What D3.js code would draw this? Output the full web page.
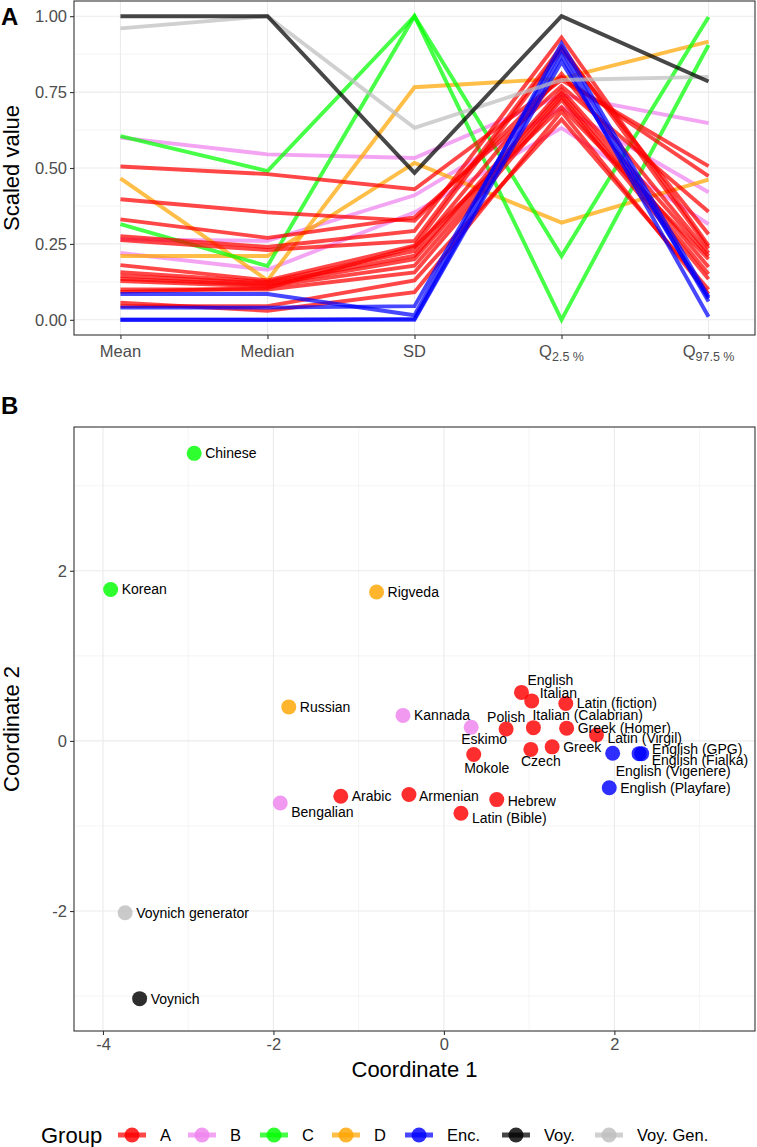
<!DOCTYPE html>
<html><head><meta charset="utf-8">
<script src="https://cdn.jsdelivr.net/npm/d3@7"></script>
<style>body{margin:0;background:#fff} text{font-family:"Liberation Sans",Arial,Helvetica,sans-serif}</style>
</head><body><svg id="c" width="757" height="1147"></svg>
<script>
// ---------- DATA ----------
const categories = ["Mean","Median","SD","Q2.5","Q97.5"];
const categoryMain = ["Mean","Median","SD","Q","Q"];
const categorySub  = ["","","","2.5 %","97.5 %"];
const groups = ["A","B","C","D","Enc.","Voy.","Voy. Gen."];
const groupColors = ["#FF0000","#EE82EE","#00FF00","#FFA500","#0000FF","#000000","#BEBEBE"];

// Panel A: one row per text (draw order)
const lineGroup = ["B","B","B","D","D","C","C",
  "A","A","A","A","A","A","A","A","A","A","A","A","A","A",
  "Enc.","Enc.","Enc.","Enc.","Voy. Gen.","Voy."];
const lineValues = [
  [0.60,0.545,0.533,0.74,0.648],
  [0.265,0.26,0.41,0.70,0.42],
  [0.22,0.165,0.354,0.632,0.315],
  [0.466,0.13,0.766,0.795,0.916],
  [0.21,0.21,0.517,0.32,0.462],
  [0.605,0.49,1.0,0.21,0.997],
  [0.315,0.177,1.0,0.0,0.905],
  [0.505,0.48,0.43,0.79,0.506],
  [0.397,0.354,0.326,0.80,0.473],
  [0.331,0.27,0.337,0.77,0.356],
  [0.275,0.24,0.293,0.93,0.244],
  [0.263,0.23,0.26,0.90,0.235],
  [0.18,0.13,0.244,0.89,0.282],
  [0.157,0.125,0.227,0.81,0.22],
  [0.145,0.12,0.211,0.757,0.21],
  [0.135,0.115,0.20,0.746,0.174],
  [0.128,0.11,0.178,0.735,0.151],
  [0.10,0.10,0.156,0.725,0.134],
  [0.092,0.105,0.24,0.70,0.20],
  [0.056,0.03,0.091,0.686,0.085],
  [0.045,0.045,0.13,0.66,0.10],
  [0.085,0.085,0.015,0.91,0.075],
  [0.04,0.04,0.045,0.89,0.06],
  [0.0,0.0,0.003,0.87,0.01],
  [0.0,0.0,0.0,0.85,0.07],
  [0.96,1.0,0.632,0.79,0.80],
  [1.0,1.0,0.484,1.0,0.785]
];
const yTicksA = [0,0.25,0.5,0.75,1];

// Panel B
const pointNames = ["Chinese","Korean","Rigveda","Russian","Kannada","Bengalian","Eskimo","Arabic","Armenian","Hebrew","Latin (Bible)","Mokole","Polish","English","Italian","Latin (fiction)","Italian (Calabrian)","Greek (Homer)","Latin (Virgil)","Czech","Greek","English (Vigenere)","English (GPG)","English (Fialka)","English (Playfare)","Voynich generator","Voynich"];
const pointGroup = ["C","C","D","D","B","B","B","A","A","A","A","A","A","A","A","A","A","A","A","A","A","Enc.","Enc.","Enc.","Enc.","Voy. Gen.","Voy."];
const coord1 = [-2.93,-3.91,-0.79,-1.82,-0.48,-1.92,0.32,-1.21,-0.41,0.62,0.20,0.35,0.73,0.91,1.03,1.43,1.05,1.44,1.79,1.02,1.27,1.98,2.29,2.32,1.94,-3.74,-3.57];
const coord2 = [3.38,1.78,1.75,0.40,0.30,-0.73,0.16,-0.65,-0.63,-0.69,-0.85,-0.16,0.14,0.57,0.47,0.44,0.156,0.15,0.07,-0.10,-0.07,-0.145,-0.15,-0.15,-0.55,-2.02,-3.03];
const xTicksB = [-4,-2,0,2];
const yTicksB = [-2,0,2];

// label nudges (style, not data)
const labelNudge = [[11,0,"start"],[11,0,"start"],[11,0,"start"],[11,0,"start"],[11,0,"start"],[11,9,"start"],[13,12,"middle"],[11,0,"start"],[10,1,"start"],[11,1,"start"],[11,5,"start"],[13,13,"middle"],[0,-12,"middle"],[6,-12,"start"],[8,-8,"start"],[11,0,"start"],[-1,-13,"start"],[11,0,"start"],[11,3,"start"],[10,12,"middle"],[11,0,"start"],[3,18,"start"],[13,-5,"start"],[10,6,"start"],[11,0,"start"],[11,0,"start"],[11,0,"start"]];

// ---------- DRAW ----------
const svg = d3.select("#c");
const color = d3.scaleOrdinal().domain(groups).range(groupColors);
const GRID="#EBEBEB", BORDER="#333333", TICKTXT="#4D4D4D";
const intFmt = v => String(v);   // ASCII hyphen-minus like ggplot

function panelFrame(g, x0,x1,y0,y1){
  g.append("rect").attr("x",x0).attr("y",y0).attr("width",x1-x0).attr("height",y1-y0)
   .attr("fill","none").attr("stroke",BORDER).attr("stroke-width",1.1);
}
function styleAxis(ax){
  ax.select(".domain").remove();
  ax.selectAll(".tick line").attr("stroke",BORDER).attr("stroke-width",1.1);
  ax.selectAll(".tick text").attr("fill",TICKTXT).style("font-size","16.5px");
}

// ===== Panel A =====
const A = {l:74,r:755,t:1,b:335};
const xA = d3.scalePoint().domain(categories).range([A.l,A.r]).padding(0.316);
const yA = d3.scaleLinear().domain([-0.05,1.05]).range([A.b,A.t]);
const gA = svg.append("g");
[0.125,0.375,0.625,0.875].forEach(v=>gA.append("line").attr("x1",A.l).attr("x2",A.r).attr("y1",yA(v)).attr("y2",yA(v)).attr("stroke",GRID).attr("stroke-width",0.55));
yTicksA.forEach(v=>gA.append("line").attr("x1",A.l).attr("x2",A.r).attr("y1",yA(v)).attr("y2",yA(v)).attr("stroke",GRID).attr("stroke-width",1.1));
categories.forEach(c=>gA.append("line").attr("x1",xA(c)).attr("x2",xA(c)).attr("y1",A.t).attr("y2",A.b).attr("stroke",GRID).attr("stroke-width",1.1));
const lineGen = d3.line().x((d,i)=>xA(categories[i])).y(d=>yA(d));
gA.selectAll("path.ln").data(lineValues).enter().append("path")
  .attr("d",d=>lineGen(d)).attr("fill","none")
  .attr("stroke",(d,i)=>color(lineGroup[i]))
  .attr("stroke-opacity",0.72)
  .attr("stroke-width",3.9).attr("stroke-linejoin","miter").attr("stroke-linecap","butt");
panelFrame(gA,A.l,A.r,A.t,A.b);
const axAy = gA.append("g").attr("transform",`translate(${A.l},0)`)
  .call(d3.axisLeft(yA).tickValues(yTicksA).tickFormat(d3.format(".2f")).tickSize(4).tickPadding(3));
styleAxis(axAy);
const axAx = gA.append("g").attr("transform",`translate(0,${A.b})`)
  .call(d3.axisBottom(xA).tickSize(4).tickFormat(""));
styleAxis(axAx);
categories.forEach((c,i)=>{
  const t = gA.append("text").attr("x",xA(c)).attr("y",A.b+22).attr("text-anchor","middle")
    .attr("fill",TICKTXT).style("font-size","16.5px");
  t.append("tspan").text(categoryMain[i]);
  if(categorySub[i]) t.append("tspan").attr("dy",4).style("font-size","12.5px").text(categorySub[i]);
});
gA.append("text").attr("transform",`translate(19,${(A.t+A.b)/2}) rotate(-90)`)
  .attr("text-anchor","middle").style("font-size","22px").attr("fill","#000").text("Scaled value");
svg.append("text").attr("x",1).attr("y",25).style("font-size","24px").style("font-weight","bold").text("A");

// ===== Panel B =====
const B = {l:74,r:755,t:427,b:1031};
const xB = d3.scaleLinear().domain([-4.34,3.65]).range([B.l,B.r]);
const yB = d3.scaleLinear().domain([-3.41,3.69]).range([B.b,B.t]);
const gB = svg.append("g");
[-3,-1,1,3].forEach(v=>{
  gB.append("line").attr("x1",xB(v)).attr("x2",xB(v)).attr("y1",B.t).attr("y2",B.b).attr("stroke",GRID).attr("stroke-width",0.55);
  gB.append("line").attr("x1",B.l).attr("x2",B.r).attr("y1",yB(v)).attr("y2",yB(v)).attr("stroke",GRID).attr("stroke-width",0.55);
});
xTicksB.forEach(v=>gB.append("line").attr("x1",xB(v)).attr("x2",xB(v)).attr("y1",B.t).attr("y2",B.b).attr("stroke",GRID).attr("stroke-width",1.1));
yTicksB.forEach(v=>gB.append("line").attr("x1",B.l).attr("x2",B.r).attr("y1",yB(v)).attr("y2",yB(v)).attr("stroke",GRID).attr("stroke-width",1.1));
gB.selectAll("circle.pt").data(pointNames).enter().append("circle")
  .attr("cx",(d,i)=>xB(coord1[i])).attr("cy",(d,i)=>yB(coord2[i])).attr("r",7.5)
  .attr("fill",(d,i)=>color(pointGroup[i])).attr("fill-opacity",0.82);
gB.selectAll("text.lbl").data(pointNames).enter().append("text")
  .attr("x",(d,i)=>xB(coord1[i])+labelNudge[i][0]).attr("y",(d,i)=>yB(coord2[i])+labelNudge[i][1])
  .attr("text-anchor",(d,i)=>labelNudge[i][2]).attr("dominant-baseline","central")
  .style("font-size","14px").attr("fill","#000").text(d=>d);
panelFrame(gB,B.l,B.r,B.t,B.b);
const axBy = gB.append("g").attr("transform",`translate(${B.l},0)`)
  .call(d3.axisLeft(yB).tickValues(yTicksB).tickFormat(intFmt).tickSize(4).tickPadding(3));
styleAxis(axBy);
const axBx = gB.append("g").attr("transform",`translate(0,${B.b})`)
  .call(d3.axisBottom(xB).tickValues(xTicksB).tickFormat(intFmt).tickSize(4).tickPadding(3));
styleAxis(axBx);
gB.append("text").attr("x",(B.l+B.r)/2).attr("y",B.b+46).attr("text-anchor","middle").style("font-size","22px").text("Coordinate 1");
gB.append("text").attr("transform",`translate(19,${(B.t+B.b)/2}) rotate(-90)`)
  .attr("text-anchor","middle").style("font-size","22px").text("Coordinate 2");
svg.append("text").attr("x",1).attr("y",414).style("font-size","24px").style("font-weight","bold").text("B");

// ===== Legend =====
const legY = 1135;
const lg = svg.append("g");
lg.append("text").attr("x",41).attr("y",legY).attr("dominant-baseline","central").style("font-size","22px").text("Group");
const keyX = [132,202,274,346,419,516,609];
groups.forEach((gname,i)=>{
  const cx = keyX[i];
  lg.append("line").attr("x1",cx-14).attr("x2",cx+14).attr("y1",legY).attr("y2",legY)
    .attr("stroke",groupColors[i]).attr("stroke-opacity",0.72).attr("stroke-width",5);
  lg.append("circle").attr("cx",cx).attr("cy",legY).attr("r",7.5).attr("fill",groupColors[i]).attr("fill-opacity",0.82);
  lg.append("text").attr("x",cx+28).attr("y",legY).attr("dominant-baseline","central")
    .style("font-size","16.5px").text(gname);
});
</script></body></html>
